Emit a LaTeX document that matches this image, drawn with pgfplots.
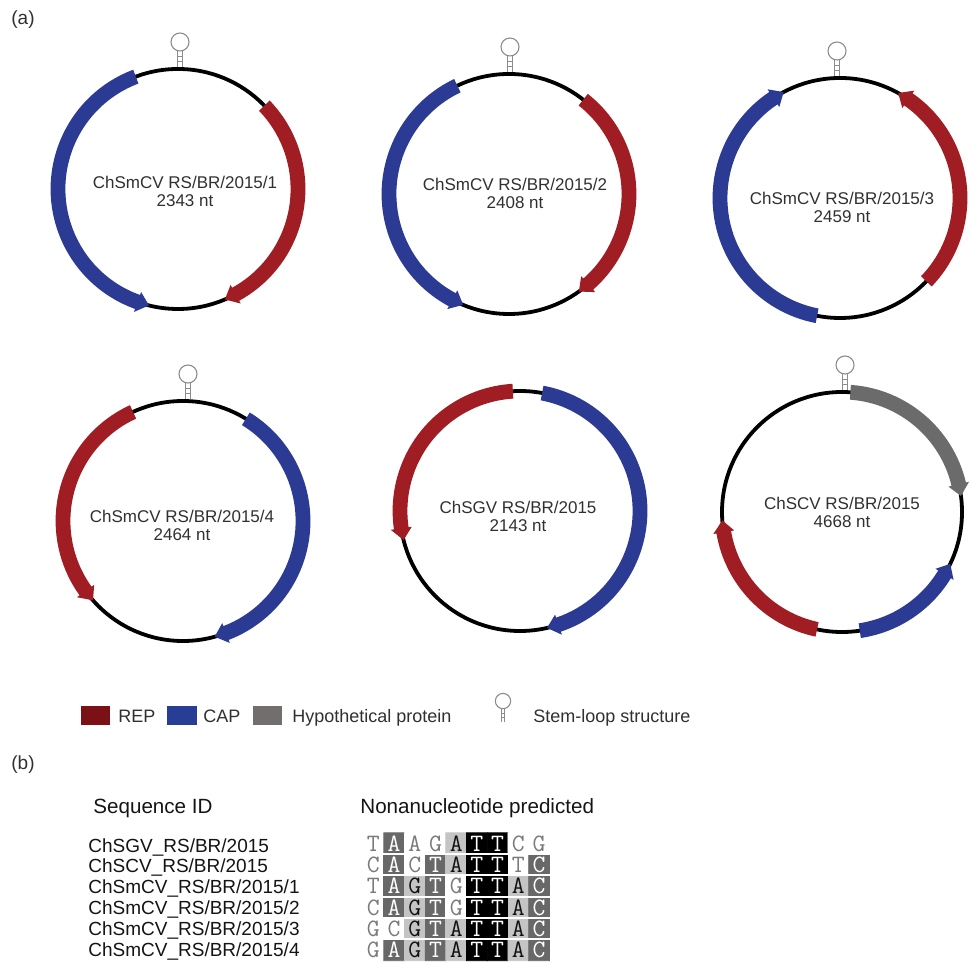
\documentclass[border=0pt]{standalone}
\usepackage{fontspec}
\setmainfont{Liberation Sans}
\usepackage{pgfplots}
\pgfplotsset{compat=1.18}
\usepackage{pgfplotstable}

\definecolor{repred}{HTML}{A11D24}
\definecolor{capblue}{HTML}{2B3A92}
\definecolor{hypgray}{HTML}{6B6B6B}
\definecolor{repkey}{HTML}{7A1115}
\definecolor{capkey}{HTML}{283D96}
\definecolor{hypkey}{HTML}{716E6D}
\definecolor{loopgray}{HTML}{8C8C8C}
\definecolor{labeltext}{HTML}{303030}
\definecolor{alntxt0}{HTML}{7A7A7A}
\definecolor{alntxt1}{HTML}{111111}
\definecolor{alntxt2}{HTML}{FFFFFF}
\definecolor{alntxt3}{HTML}{FFFFFF}

% Nonanucleotide motif: column, row, shading class (0 none .. 3 identical), base
\pgfplotstableread{
col row s L
0 0 0 T
1 0 2 A
2 0 0 A
3 0 0 G
4 0 1 A
5 0 3 T
6 0 3 T
7 0 0 C
8 0 0 G
0 1 0 C
1 1 2 A
2 1 0 C
3 1 2 T
4 1 1 A
5 1 3 T
6 1 3 T
7 1 0 T
8 1 2 C
0 2 0 T
1 2 2 A
2 2 1 G
3 2 2 T
4 2 0 G
5 2 3 T
6 2 3 T
7 2 1 A
8 2 2 C
0 3 0 C
1 3 2 A
2 3 1 G
3 3 2 T
4 3 0 G
5 3 3 T
6 3 3 T
7 3 1 A
8 3 2 C
0 4 0 G
1 4 0 C
2 4 1 G
3 4 2 T
4 4 1 A
5 4 3 T
6 4 3 T
7 4 1 A
8 4 2 C
0 5 0 G
1 5 2 A
2 5 1 G
3 5 2 T
4 5 1 A
5 5 3 T
6 5 3 T
7 5 1 A
8 5 2 C
}\alnmotif

% ORF drawn as a thick arc on the genome ring: centre, tail angle, tip angle, colour
\newcommand{\gene}[4]{%
  \pgfmathsetmacro{\gm}{#3-ifthenelse(#3>#2,5.7,-5.7)}%
  \fill[#4, shift={(#1)}] (#2:63.7pt) arc[start angle=#2, end angle=\gm, radius=63.7pt]
    -- (\gm:65.3pt) -- (#3:60pt) -- (\gm:54.7pt) -- (\gm:56.3pt)
    arc[start angle=\gm, end angle=#2, radius=56.3pt] -- cycle;}

% stem-loop symbol standing on a point, optional scale
\newcommand{\stemloop}[2][1]{%
  \begin{scope}[shift={(#2)}, scale=#1, draw=loopgray, line width=0.55pt]
    \draw (-1.1pt,0.9pt) -- (-1.1pt,9.2pt) (1.1pt,0.9pt) -- (1.1pt,9.2pt)
          (-1.1pt,3.6pt) -- (1.1pt,3.6pt) (-1.1pt,6.2pt) -- (1.1pt,6.2pt);
    \draw (0,13.5pt) circle[radius=4.5pt];
  \end{scope}}

\newcommand{\maplabel}{\fontsize{8.5}{9}\selectfont}
\newcommand{\idfont}{\fontsize{9.5}{10}\selectfont}
\newcommand{\basefont}{\ttfamily\fontsize{12.5}{12.5}\selectfont}

\begin{document}
\begin{tikzpicture}
\begin{axis}[
  x=0.5pt, y=0.5pt,
  xmin=0, xmax=972, ymin=0, ymax=963,
  y dir=reverse, hide axis, clip=false, enlargelimits=false,
  colormap={aln}{rgb255=(255,255,255) rgb255=(196,196,196) rgb255=(104,104,104) rgb255=(0,0,0)},
  colormap access=direct,
]
% page corners
\coordinate (bbA) at (rel axis cs:0,0);
\coordinate (bbB) at (rel axis cs:1,1);

% genome centres
\coordinate (g1) at (axis cs:178,189);
\coordinate (g2) at (axis cs:509,194);
\coordinate (g3) at (axis cs:840,198);
\coordinate (g4) at (axis cs:183,521);
\coordinate (g5) at (axis cs:520,511);
\coordinate (g6) at (axis cs:842,512);
% stem-loop feet on the ring
\coordinate (s1) at (axis cs:180,69);
\coordinate (s2) at (axis cs:510,74);
\coordinate (s3) at (axis cs:837,78);
\coordinate (s4) at (axis cs:188,401);
\coordinate (s6) at (axis cs:845,392);
\coordinate (sk) at (axis cs:503,724);

% panel letters
\node[anchor=west, inner sep=0pt, font=\fontsize{9.5}{10}\selectfont, text=labeltext] at (axis cs:11,20) {(a)};
\node[anchor=west, inner sep=0pt, font=\fontsize{9.5}{10}\selectfont, text=labeltext] at (axis cs:11,765) {(b)};

% genome names and sizes
\begin{scope}[every node/.style={align=center, inner sep=0pt, font=\maplabel, text=labeltext}]
\node at (axis cs:185,191) {ChSmCV RS/BR/2015/1\\2343 nt};
\node at (axis cs:515,193) {ChSmCV RS/BR/2015/2\\2408 nt};
\node at (axis cs:842,207) {ChSmCV RS/BR/2015/3\\2459 nt};
\node at (axis cs:182,525) {ChSmCV RS/BR/2015/4\\2464 nt};
\node at (axis cs:518,516) {ChSGV RS/BR/2015\\2143 nt};
\node at (axis cs:842,512) {ChSCV RS/BR/2015\\4668 nt};
\end{scope}

% key
\fill[repkey] (axis cs:81,706) rectangle (axis cs:110,725);
\fill[capkey] (axis cs:167,706) rectangle (axis cs:197,725);
\fill[hypkey] (axis cs:253,706) rectangle (axis cs:282,725);
\begin{scope}[every node/.style={anchor=base west, inner sep=0pt, font=\fontsize{9}{10}\selectfont, text=labeltext}]
\node at (axis cs:118,722.5) {REP};
\node at (axis cs:203,722.5) {CAP};
\node at (axis cs:292,722.5) {Hypothetical protein};
\node at (axis cs:533,722.5) {Stem-loop structure};
\end{scope}

% panel (b) headings and sequence names
\begin{scope}[every node/.style={anchor=base west, inner sep=0pt, font=\idfont, text=black!92}]
\node[font=\fontsize{10.3}{11}\selectfont] at (axis cs:93,813) {Sequence ID};
\node[font=\fontsize{10.3}{11}\selectfont] at (axis cs:360,813) {Nonanucleotide predicted};
\node at (axis cs:88,852) {ChSGV\_RS/BR/2015};
\node at (axis cs:88,872) {ChSCV\_RS/BR/2015};
\node at (axis cs:88,893) {ChSmCV\_RS/BR/2015/1};
\node at (axis cs:88,914) {ChSmCV\_RS/BR/2015/2};
\node at (axis cs:88,935) {ChSmCV\_RS/BR/2015/3};
\node at (axis cs:88,956) {ChSmCV\_RS/BR/2015/4};
\end{scope}

% shaded motif alignment
\addplot[matrix plot*, mesh/cols=9, mesh/rows=6, point meta=explicit, draw=none]
  table[x expr={373.4+20.7*\thisrow{col}}, y expr={843.5+21.3*\thisrow{row}}, meta=s] {\alnmotif};
\foreach \yy in {854.15,875.45,896.75,918.05,939.35}{
  \edef\tmp{\noexpand\draw[white, line width=1pt] (axis cs:362,\yy) -- (axis cs:551,\yy);}\tmp
}
\addplot[draw=none, mark=none, point meta=explicit symbolic,
  nodes near coords={\basefont\pgfmathtruncatemacro{\k}{\shd}\textcolor{alntxt\k}{\pgfplotspointmeta}},
  nodes near coords align={center},
  visualization depends on={\thisrow{s} \as \shd},
  every node near coord/.append style={anchor=center, inner sep=0pt}]
  table[x expr={373.4+20.7*\thisrow{col}}, y expr={843.5+21.3*\thisrow{row}}, meta=L] {\alnmotif};
\end{axis}

% genome rings
\foreach \g in {g1,g2,g3,g4,g5,g6}
  \draw[line width=1.9pt] (\g) circle[radius=60pt];

% ORFs: tail angle, tip angle
\gene{g1}{110.6}{256}{capblue}
\gene{g1}{44}{-67}{repred}
\gene{g2}{115.5}{247.5}{capblue}
\gene{g2}{51.8}{-54.4}{repred}
\gene{g3}{259}{118}{capblue}
\gene{g3}{-44}{61}{repred}
\gene{g4}{114.6}{221.4}{repred}
\gene{g4}{58.4}{-74.7}{capblue}
\gene{g5}{93.4}{194}{repred}
\gene{g5}{79.4}{-77}{capblue}
\gene{g6}{86}{7.7}{hypgray}
\gene{g6}{-81.5}{-25.6}{capblue}
\gene{g6}{258}{184}{repred}

% stem-loops
\stemloop{s1}
\stemloop{s2}
\stemloop{s3}
\stemloop{s4}
\stemloop{s6}
\stemloop[0.85]{sk}

\pgfresetboundingbox
\path[use as bounding box] (bbA) rectangle (bbB);
\end{tikzpicture}
\end{document}
